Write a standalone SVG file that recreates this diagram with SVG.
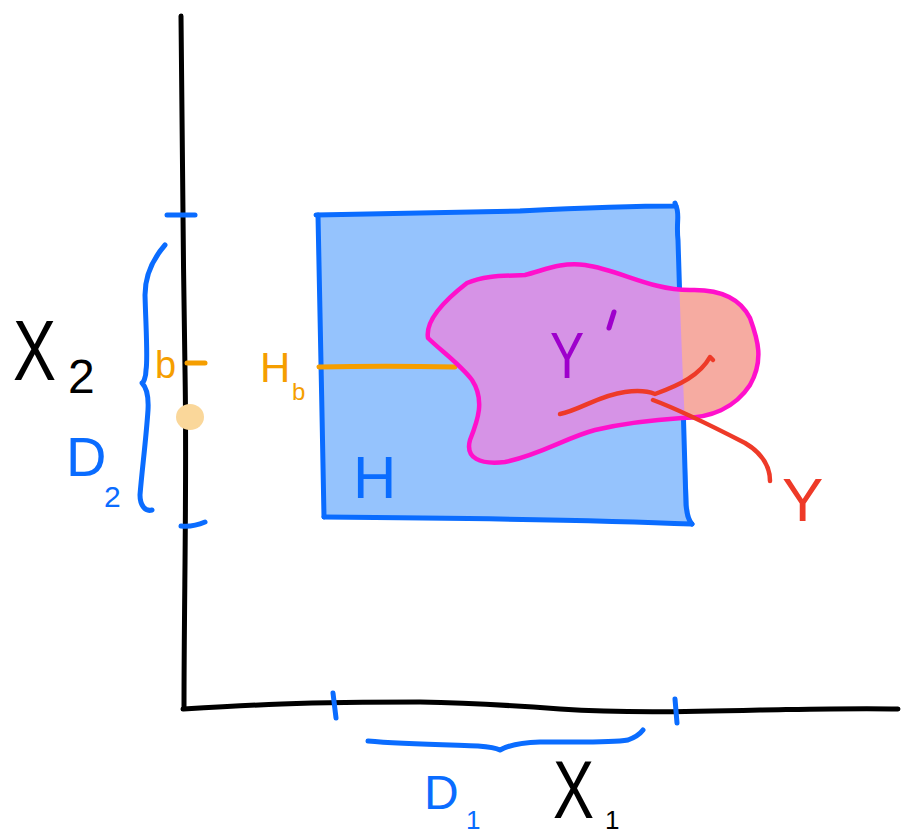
<svg xmlns="http://www.w3.org/2000/svg" width="901" height="836" viewBox="0 0 901 836">
<style>
.ink{fill:none;stroke-linecap:round;stroke-linejoin:round}
.k{stroke:#000;stroke-width:5}
.b{stroke:#0A6CFF;stroke-width:5}
.o{stroke:#F59E00;stroke-width:5}
.r{stroke:#EE3A28;stroke-width:4.5}
.t{font-family:"Liberation Sans",Arial,sans-serif}
</style>
<defs>
<clipPath id="rectClip"><path d="M318,215 C420,213 560,206 676,205 C680,300 684,420 690,522 L323,517 Z"/></clipPath>
<path id="blobPath" d="M467,283 C485,275 505,276 525,275 C545,270 560,262 585,265 C620,270 650,290 690,290 C720,289 740,298 750,318 C758,340 764,360 750,385 C735,408 710,418 682,418 C650,420 625,423 595,430 C565,438 540,455 505,462 C480,465 465,458 470,440 C478,420 485,400 472,380 C460,364 440,350 428,338 C425,320 445,300 467,283 Z"/>
</defs>
<rect width="901" height="836" fill="#fff"/>

<g id="axes">
<path class="ink k" d="M181,16 C182,120 183,250 185,370 C187,480 184,600 184,708"/>
<path class="ink k" d="M183,709 C250,705 300,702 420,702 C480,703 520,706 560,709 C620,713 680,712 760,710 C820,709 860,708 898,709"/>
</g>

<g id="node-H">
<path d="M318,215 C420,213 560,206 676,205 C680,300 684,420 690,522 L323,517 Z" fill="#95C3FD"/>
<path class="ink b" d="M316,215 C380,214 450,213 520,211 C580,208 630,206 676,206 L675,203"/>
<path class="ink b" d="M676,206 C680,214 676,222 678,240 C680,320 684,420 686,505 C687,514 688,520 692,524"/>
<path class="ink b" d="M692,524 C600,520 450,518 324,517"/>
<path class="ink b" d="M324,517 C322,420 320,300 318,215"/>
<text class="t" x="353" y="498" font-size="60" fill="#0A6CFF">H</text>
</g>

<g id="node-Hb">
<path class="ink o" d="M319,367 C360,366 410,366 455,367"/>
<text class="t" x="260" y="382" font-size="42" fill="#F59E00">H</text>
<text class="t" x="292" y="400" font-size="24" fill="#F59E00">b</text>
</g>

<g id="node-Y">
<use href="#blobPath" fill="#F6ABA1"/>
<use href="#blobPath" fill="#D693E6" clip-path="url(#rectClip)"/>
<use href="#blobPath" class="ink" stroke="#FF10CC" stroke-width="4.5"/>
<path class="ink r" d="M560,414 C580,410 600,395 625,392 C640,390 650,392 655,394 C680,385 700,375 710,357 L713,360"/>
<path class="ink r" d="M653,400 C680,410 710,425 745,443 C765,455 770,468 770,481"/>
<text class="t" x="782" y="521" font-size="62" fill="#EE3A28">Y</text>
<text class="t" x="550" y="378" font-size="64" fill="#9E00CC" transform="translate(550 0) scale(0.8 1) translate(-550 0)">Y</text>
<path class="ink" stroke="#9E00CC" stroke-width="5" d="M614,312 L609,328"/>
</g>

<g id="node-b">
<path class="ink o" d="M187,363 L205,363"/>
<text class="t" x="155" y="378" font-size="38" fill="#F59E00">b</text>
<ellipse cx="190" cy="417" rx="14" ry="13" fill="#FAD79A"/>
</g>

<g id="node-D2">
<path class="ink b" d="M167,215 L195,215"/>
<path class="ink b" d="M181,526 C190,527 198,525 205,522"/>
<path class="ink b" d="M165,245 C152,260 145,275 145,295 C146,330 148,360 146,370 C146,378 143,383 142,383 C145,386 149,392 148,410 C146,440 142,470 140,495 C140,505 145,512 152,510"/>
<text class="t" x="66" y="476" font-size="56" fill="#0A6CFF">D</text>
<text class="t" x="104" y="507" font-size="30" fill="#0A6CFF">2</text>
</g>

<g id="node-X2">
<text class="t" x="13" y="380" font-size="86" fill="#000" transform="translate(13 0) scale(0.75 1) translate(-13 0)">X</text>
<text class="t" x="68" y="393" font-size="48" fill="#000">2</text>
</g>

<g id="node-D1">
<path class="ink b" d="M333,693 L336,718"/>
<path class="ink b" d="M675,699 L677,723"/>
<path class="ink b" d="M368,741 C400,744 450,745 478,746 C490,747 496,748 500,750 C505,747 515,743 540,742 C580,742 610,743 628,740 C636,737 640,734 643,730"/>
<text class="t" x="424" y="809" font-size="48" fill="#0A6CFF">D</text>
<text class="t" x="466" y="829" font-size="26" fill="#0A6CFF">1</text>
</g>

<g id="node-X1">
<text class="t" x="553" y="818" font-size="82" fill="#000" transform="translate(553 0) scale(0.75 1) translate(-553 0)">X</text>
<text class="t" x="605" y="829" font-size="26" fill="#000">1</text>
</g>
</svg>
